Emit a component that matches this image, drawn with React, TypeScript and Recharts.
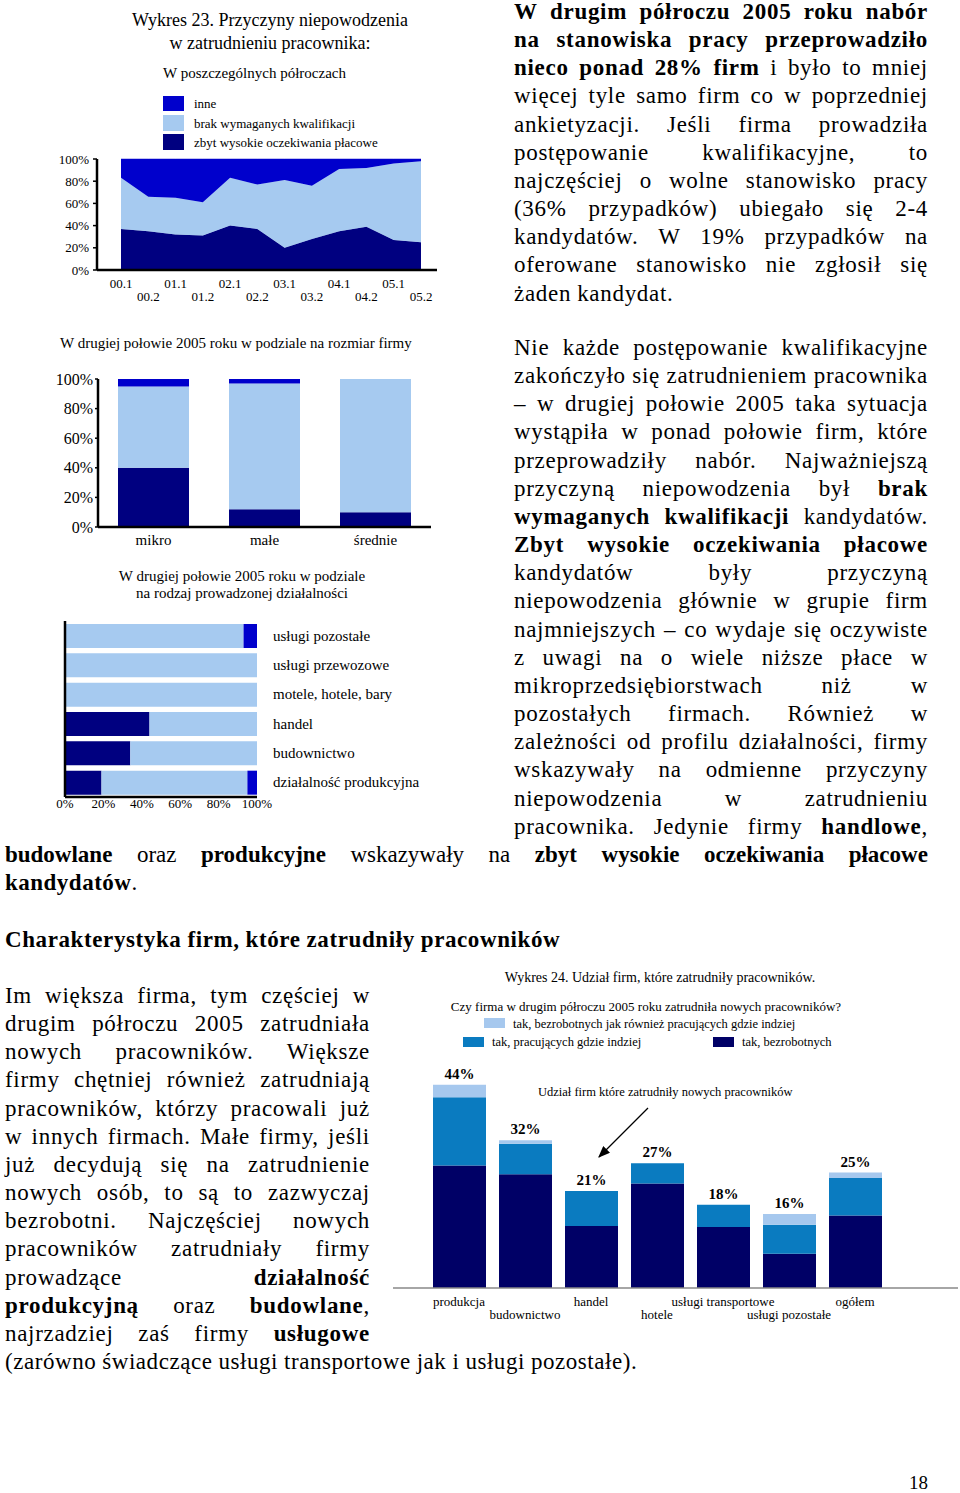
import {
    Area,
    AreaChart,
    Bar,
    BarChart,
    LabelList,
    XAxis,
    YAxis,
} from 'recharts';

const SERIF = "'Liberation Serif', 'Times New Roman', serif";

const INNE_C = '#0000cc';
const BRAK_C = '#a6caf0';
const ZBYT_C = '#000080';

// Wykres 23 - halves of years
const PERIODS = ['00.1', '00.2', '01.1', '01.2', '02.1', '02.2', '03.1', '03.2', '04.1', '04.2', '05.1', '05.2'];
const ZBYT_HALF = [37, 35, 32, 31, 40, 37, 20, 28, 35, 39, 27, 25];
const BRAK_HALF = [46, 31, 33, 30, 43, 40, 61, 48, 56, 53, 69, 73];
const INNE_HALF = [17, 34, 35, 39, 17, 23, 19, 24, 9, 8, 4, 2];

// by firm size
const SIZES = ['mikro', 'małe', 'średnie'];
const ZBYT_SIZE = [40, 12, 10];
const BRAK_SIZE = [55, 85, 90];
const INNE_SIZE = [5, 3, 0];

// by sector
const SECTORS = ['usługi pozostałe', 'usługi przewozowe', 'motele, hotele, bary', 'handel', 'budownictwo', 'działalność produkcyjna'];
const ZBYT_SECTOR = [0, 0, 0, 44, 34, 19];
const BRAK_SECTOR = [93, 100, 100, 56, 66, 76];
const INNE_SECTOR = [7, 0, 0, 0, 0, 5];

// Wykres 24
const BRANCHES = ['produkcja', 'budownictwo', 'handel', 'hotele', 'usługi transportowe', 'usługi pozostałe', 'ogółem'];
const UNEMPLOYED = [26.5, 24.6, 13.4, 22.6, 13.2, 7.4, 15.7];
const EMPLOYED_ELSEWHERE = [14.8, 6.6, 7.6, 4.4, 4.8, 6.3, 8.1];
const BOTH = [2.7, 0.8, 0, 0, 0, 2.3, 1.2];
const TOTALS = [44, 32, 21, 27, 18, 16, 25];

const PCT_TICKS = [0, 20, 40, 60, 80, 100];

const halfData = PERIODS.map((p, i) => ({ p, zbyt: ZBYT_HALF[i], brak: BRAK_HALF[i], inne: INNE_HALF[i] }));
const sizeData = SIZES.map((s, i) => ({ s, zbyt: ZBYT_SIZE[i], brak: BRAK_SIZE[i], inne: INNE_SIZE[i] }));
const sectorData = SECTORS.map((s, i) => ({ s, zbyt: ZBYT_SECTOR[i], brak: BRAK_SECTOR[i], inne: INNE_SECTOR[i] }));
const branchData = BRANCHES.map((b, i) => ({
    b,
    unemployed: UNEMPLOYED[i],
    elsewhere: EMPLOYED_ELSEWHERE[i],
    both: BOTH[i],
    total: TOTALS[i],
}));

const BLOCK_TOP = [
    '**W drugim półroczu 2005 roku nabór**',
    '**na stanowiska pracy przeprowadziło**',
    '**nieco ponad 28% firm** i było to mniej',
    'więcej tyle samo firm co w poprzedniej',
    'ankietyzacji. Jeśli firma prowadziła',
    'postępowanie kwalifikacyjne, to',
    'najczęściej o wolne stanowisko pracy',
    '(36% przypadków) ubiegało się 2-4',
    'kandydatów. W 19% przypadków na',
    'oferowane stanowisko nie zgłosił się',
];
const BLOCK_TOP_LAST = 'żaden kandydat.';

const BLOCK_MID = [
    'Nie każde postępowanie kwalifikacyjne',
    'zakończyło się zatrudnieniem pracownika',
    '– w drugiej połowie 2005 taka sytuacja',
    'wystąpiła w ponad połowie firm, które',
    'przeprowadziły nabór. Najważniejszą',
    'przyczyną niepowodzenia był **brak**',
    '**wymaganych kwalifikacji** kandydatów.',
    '**Zbyt wysokie oczekiwania płacowe**',
    'kandydatów były przyczyną',
    'niepowodzenia głównie w grupie firm',
    'najmniejszych – co wydaje się oczywiste',
    'z uwagi na o wiele niższe płace w',
    'mikroprzedsiębiorstwach niż w',
    'pozostałych firmach. Również w',
    'zależności od profilu działalności, firmy',
    'wskazywały na odmienne przyczyny',
    'niepowodzenia w zatrudnieniu',
    'pracownika. Jedynie firmy **handlowe**,',
];
const BLOCK_MID_WIDE = '**budowlane** oraz **produkcyjne** wskazywały na **zbyt wysokie oczekiwania płacowe**';
const BLOCK_MID_LAST = '**kandydatów**.';

const BLOCK_LEFT = [
    'Im większa firma, tym częściej w',
    'drugim półroczu 2005 zatrudniała',
    'nowych pracowników. Większe',
    'firmy chętniej również zatrudniają',
    'pracowników, którzy pracowali już',
    'w innych firmach. Małe firmy, jeśli',
    'już decydują się na zatrudnienie',
    'nowych osób, to są to zazwyczaj',
    'bezrobotni. Najczęściej nowych',
    'pracowników zatrudniały firmy',
    'prowadzące **działalność**',
    '**produkcyjną** oraz **budowlane**,',
    'najrzadziej zaś firmy **usługowe**',
];
const BLOCK_LEFT_LAST = '(zarówno świadczące usługi transportowe jak i usługi pozostałe).';

const LINE_H = 28.17;

function parseWords(line: string) {
    let bold = false;
    return line.split(' ').map((word) => {
        const segs: { t: string; b: boolean }[] = [];
        word.split('**').forEach((part, i) => {
            if (i > 0) bold = !bold;
            if (part) segs.push({ t: part, b: bold });
        });
        return segs;
    });
}

function Line({
    text,
    left,
    width,
    center,
    justify = true,
    spacing = 0.7,
}: {
    text: string;
    left: number;
    width: number;
    center: number;
    justify?: boolean;
    spacing?: number;
}) {
    const words = parseWords(text);
    return (
        <div
            style={{
                position: 'absolute',
                left,
                top: center - LINE_H / 2,
                width,
                height: LINE_H,
                lineHeight: `${LINE_H}px`,
                fontSize: 23,
                letterSpacing: spacing,
                display: 'flex',
                justifyContent: justify ? 'space-between' : 'flex-start',
                gap: justify ? 0 : 6,
                whiteSpace: 'nowrap',
            }}
        >
            {words.map((segs, i) => (
                <span key={i}>
                    {segs.map((s, j) => (
                        <span key={j} style={{ fontWeight: s.b ? 'bold' : 'normal' }}>
                            {s.t}
                        </span>
                    ))}
                </span>
            ))}
        </div>
    );
}

function Swatch({ left, top, w, h, color }: { left: number; top: number; w: number; h: number; color: string }) {
    return <div style={{ position: 'absolute', left, top, width: w, height: h, background: color }} />;
}

function Label({ left, top, size, children, center, bold }: any) {
    return (
        <div
            style={{
                position: 'absolute',
                left: center ? left - 300 : left,
                width: center ? 600 : undefined,
                textAlign: center ? 'center' : 'left',
                top: top - size * 0.6,
                fontSize: size,
                lineHeight: `${size * 1.2}px`,
                whiteSpace: 'nowrap',
                fontWeight: bold ? 'bold' : 'normal',
            }}
        >
            {children}
        </div>
    );
}

const twoRowTick = (size: number, d1: number, d2: number) => (props: any) => {
    const { x, y, payload, index } = props;
    return (
        <text
            x={x}
            y={y + (index % 2 === 0 ? d1 : d2)}
            textAnchor="middle"
            fontSize={size}
            fontFamily={SERIF}
            fill="#000"
        >
            {payload.value}
        </text>
    );
};

const sectorTick = (props: any) => {
    const { x, y, payload } = props;
    return (
        <text x={x} y={y + 5} textAnchor="start" fontSize={15} fontFamily={SERIF} fill="#000">
            {payload.value}
        </text>
    );
};

const pct = (v: number) => `${v}%`;

function HalfYearChart() {
    return (
        <div style={{ position: 'absolute', left: 40, top: 150 }}>
            <AreaChart width={420} height={160} data={halfData} margin={{ top: 9, right: 23, left: 0, bottom: 0 }}>
                <XAxis
                    dataKey="p"
                    padding={{ left: 24, right: 16 }}
                    axisLine={{ stroke: '#000', strokeWidth: 2.5 }}
                    tickLine={false}
                    tickSize={0}
                    interval={0}
                    height={40}
                    tick={twoRowTick(13, 16, 29)}
                />
                <YAxis
                    domain={[0, 100]}
                    ticks={PCT_TICKS}
                    tickFormatter={pct}
                    width={57}
                    axisLine={{ stroke: '#000', strokeWidth: 2.5 }}
                    tickLine={{ stroke: '#000', strokeWidth: 1.5 }}
                    tickSize={4}
                    tickMargin={4}
                    tick={{ fontSize: 13, fill: '#000', fontFamily: SERIF }}
                />
                <Area type="linear" dataKey="zbyt" stackId="1" fill={ZBYT_C} stroke={ZBYT_C} strokeWidth={0.5} fillOpacity={1} isAnimationActive={false} />
                <Area type="linear" dataKey="brak" stackId="1" fill={BRAK_C} stroke={BRAK_C} strokeWidth={0.5} fillOpacity={1} isAnimationActive={false} />
                <Area type="linear" dataKey="inne" stackId="1" fill={INNE_C} stroke={INNE_C} strokeWidth={0.5} fillOpacity={1} isAnimationActive={false} />
            </AreaChart>
        </div>
    );
}

function SizeChart() {
    return (
        <div style={{ position: 'absolute', left: 40, top: 360 }}>
            <BarChart width={420} height={197} data={sizeData} margin={{ top: 19, right: 29, left: 0, bottom: 0 }}>
                <XAxis
                    dataKey="s"
                    axisLine={{ stroke: '#000', strokeWidth: 2.5 }}
                    tickLine={false}
                    tickSize={0}
                    tickMargin={7}
                    height={30}
                    tick={{ fontSize: 15, fill: '#000', fontFamily: SERIF }}
                />
                <YAxis
                    domain={[0, 100]}
                    ticks={PCT_TICKS}
                    tickFormatter={pct}
                    width={58}
                    axisLine={{ stroke: '#000', strokeWidth: 2.5 }}
                    tickLine={{ stroke: '#000', strokeWidth: 1.5 }}
                    tickSize={3}
                    tickMargin={2}
                    tick={{ fontSize: 16, fill: '#000', fontFamily: SERIF }}
                />
                <Bar dataKey="zbyt" stackId="1" fill={ZBYT_C} barSize={71} isAnimationActive={false} />
                <Bar dataKey="brak" stackId="1" fill={BRAK_C} barSize={71} isAnimationActive={false} />
                <Bar dataKey="inne" stackId="1" fill={INNE_C} barSize={71} isAnimationActive={false} />
            </BarChart>
        </div>
    );
}

function SectorChart() {
    return (
        <div style={{ position: 'absolute', left: 20, top: 600 }}>
            <BarChart width={400} height={217} data={sectorData} layout="vertical" margin={{ top: 21, right: 0, left: 0, bottom: 0 }}>
                <XAxis
                    type="number"
                    domain={[0, 100]}
                    ticks={PCT_TICKS}
                    tickFormatter={pct}
                    axisLine={{ stroke: '#000', strokeWidth: 2.5 }}
                    tickLine={false}
                    tickSize={0}
                    tickMargin={2}
                    height={20}
                    tick={{ fontSize: 13, fill: '#000', fontFamily: SERIF }}
                />
                <YAxis
                    yAxisId="left"
                    type="category"
                    dataKey="s"
                    width={45}
                    axisLine={{ stroke: '#000', strokeWidth: 2.5 }}
                    tickLine={false}
                    tick={false}
                />
                <YAxis
                    yAxisId="right"
                    orientation="right"
                    type="category"
                    dataKey="s"
                    width={163}
                    axisLine={false}
                    tickLine={false}
                    tickSize={0}
                    tickMargin={16}
                    tick={sectorTick}
                />
                <Bar yAxisId="left" dataKey="zbyt" stackId="1" fill={ZBYT_C} barSize={24} isAnimationActive={false} />
                <Bar yAxisId="left" dataKey="brak" stackId="1" fill={BRAK_C} barSize={24} isAnimationActive={false} />
                <Bar yAxisId="left" dataKey="inne" stackId="1" fill={INNE_C} barSize={24} isAnimationActive={false} />
            </BarChart>
        </div>
    );
}

const NAVY = '#000066';
const MID = '#0a7bc0';
const LIGHT = '#a6c8ee';

// label sits above the full stack: scale taken from the bottom segment
const totalLabel = (props: any) => {
    const { x, y, width, height, index } = props;
    const i = typeof index === 'number' ? index : 0;
    const perUnit = height / UNEMPLOYED[i];
    const top = y + height - TOTALS[i] * perUnit;
    return (
        <text
            x={x + width / 2}
            y={top - 6}
            textAnchor="middle"
            fontSize={15}
            fontWeight="bold"
            fontFamily={SERIF}
            fill="#000"
        >
            {`${TOTALS[i]}%`}
        </text>
    );
};

function HiringChart() {
    return (
        <div style={{ position: 'absolute', left: 380, top: 1040 }}>
            <BarChart width={580} height={288} data={branchData} margin={{ top: 17, right: 2, left: 13, bottom: 0 }}>
                <XAxis
                    dataKey="b"
                    padding={{ left: 33, right: 70 }}
                    axisLine={{ stroke: '#888', strokeWidth: 1.5 }}
                    tickLine={false}
                    tickSize={0}
                    interval={0}
                    height={40}
                    tick={twoRowTick(13, 16, 29)}
                />
                <YAxis hide domain={[0, 50]} />
                <Bar dataKey="unemployed" stackId="1" fill={NAVY} barSize={53} isAnimationActive={false}>
                    <LabelList dataKey="total" content={totalLabel} />
                </Bar>
                <Bar dataKey="elsewhere" stackId="1" fill={MID} barSize={53} isAnimationActive={false} />
                <Bar dataKey="both" stackId="1" fill={LIGHT} barSize={53} isAnimationActive={false} />
            </BarChart>
        </div>
    );
}

export default function App() {
    return (
        <div
            style={{
                position: 'absolute',
                left: 0,
                top: 0,
                width: 960,
                height: 1493,
                background: '#fff',
                color: '#000',
                fontFamily: SERIF,
                overflow: 'hidden',
            }}
        >
            {/* Wykres 23 */}
            <Label left={270} top={21} size={18} center>Wykres 23. Przyczyny niepowodzenia</Label>
            <Label left={270} top={44} size={18} center>w zatrudnieniu pracownika:</Label>
            <Label left={163} top={73} size={15}>W poszczególnych półroczach</Label>
            <Swatch left={163} top={96} w={21} h={15} color={INNE_C} />
            <Swatch left={163} top={115} w={21} h={16} color={BRAK_C} />
            <Swatch left={163} top={134} w={21} h={16} color={ZBYT_C} />
            <Label left={194} top={104} size={13}>inne</Label>
            <Label left={194} top={124} size={13}>brak wymaganych kwalifikacji</Label>
            <Label left={194} top={143} size={13}>zbyt wysokie oczekiwania płacowe</Label>
            <HalfYearChart />

            <Label left={60} top={343} size={15}>W drugiej połowie 2005 roku w podziale na rozmiar firmy</Label>
            <SizeChart />
            <Label left={242} top={576} size={15} center>W drugiej połowie 2005 roku w podziale</Label>
            <Label left={242} top={593} size={15} center>na rodzaj prowadzonej działalności</Label>
            <SectorChart />

            {/* text */}
            {BLOCK_TOP.map((t, i) => (
                <Line key={'t' + i} text={t} left={514} width={414} center={12 + i * LINE_H} />
            ))}
            <Line text={BLOCK_TOP_LAST} left={514} width={414} center={12 + BLOCK_TOP.length * LINE_H} justify={false} />

            {BLOCK_MID.map((t, i) => (
                <Line key={'m' + i} text={t} left={514} width={414} center={348 + i * LINE_H} />
            ))}
            <Line text={BLOCK_MID_WIDE} left={5} width={923} center={348 + BLOCK_MID.length * LINE_H} spacing={0} />
            <Line text={BLOCK_MID_LAST} left={5} width={923} center={348 + (BLOCK_MID.length + 1) * LINE_H} justify={false} spacing={0.5} />

            <Line text="**Charakterystyka firm, które zatrudniły pracowników**" left={5} width={923} center={940} justify={false} spacing={0.6} />

            {BLOCK_LEFT.map((t, i) => (
                <Line key={'l' + i} text={t} left={5} width={365} center={996 + i * LINE_H} />
            ))}
            <Line text={BLOCK_LEFT_LAST} left={5} width={923} center={996 + BLOCK_LEFT.length * LINE_H} justify={false} spacing={0.55} />

            {/* Wykres 24 */}
            <Label left={660} top={978} size={14} center>Wykres 24. Udział firm, które zatrudniły pracowników.</Label>
            <Label left={646} top={1007} size={13} center>Czy firma w drugim półroczu 2005 roku zatrudniła nowych pracowników?</Label>
            <Swatch left={484} top={1018} w={21} h={10} color={LIGHT} />
            <Label left={513} top={1024} size={12.5}>tak, bezrobotnych jak również pracujących gdzie indziej</Label>
            <Swatch left={463} top={1037} w={21} h={10} color={MID} />
            <Label left={492} top={1042} size={12.5}>tak, pracujących gdzie indziej</Label>
            <Swatch left={713} top={1037} w={21} h={10} color={NAVY} />
            <Label left={742} top={1042} size={12.5}>tak, bezrobotnych</Label>
            <Label left={538} top={1092} size={12.5}>Udział firm które zatrudniły nowych pracowników</Label>
            <HiringChart />
            <svg style={{ position: 'absolute', left: 0, top: 0 }} width={960} height={1493} pointerEvents="none">
                <defs>
                    <marker id="ah" markerWidth="10" markerHeight="8" refX="9" refY="4" orient="auto">
                        <polygon points="0 0, 10 4, 0 8" fill="#000" />
                    </marker>
                </defs>
                <line x1={648} y1={1108} x2={599} y2={1157} stroke="#000" strokeWidth={1.2} markerEnd="url(#ah)" />
            </svg>

            <div style={{ position: 'absolute', left: 880, top: 1475, width: 48, textAlign: 'right', fontSize: 19, lineHeight: '16px' }}>
                18
            </div>
        </div>
    );
}
